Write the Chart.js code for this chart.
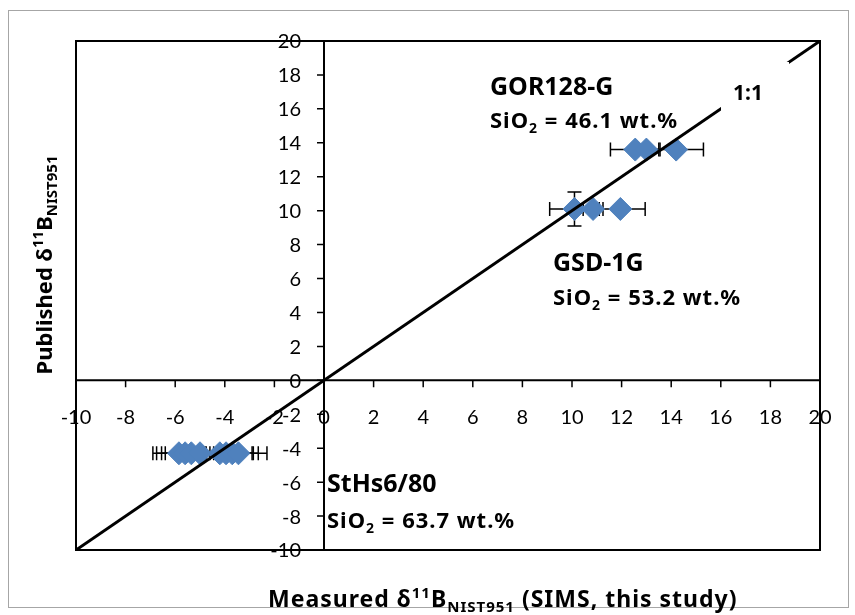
<!DOCTYPE html>
<html>
<head>
<meta charset="utf-8">
<script src="https://cdn.jsdelivr.net/npm/chart.js@4/dist/chart.umd.min.js"></script>
<style>
html,body{margin:0;padding:0;background:#fff;}
#wrap{width:855px;height:615px;}
</style>
</head>
<body>
<div id="wrap"><canvas id="c" width="855" height="615"></canvas></div>
<script>
// ---- data ----
const xTicks = [-10,-8,-6,-4,-2,0,2,4,6,8,10,12,14,16,18,20];
const yTicks = [-10,-8,-6,-4,-2,0,2,4,6,8,10,12,14,16,18,20];

const gorX = [12.55, 13.0, 14.2];
const gorY = [13.6, 13.6, 13.6];
const gorXErr = [1.0, 0.5, 1.1];
const gorYErr = [0, 0, 0];

const gsdX = [10.1, 10.85, 11.95];
const gsdY = [10.1, 10.1, 10.1];
const gsdXErr = [1.0, 0.4, 1.0];
const gsdYErr = [1.0, 0, 0];

const stX = [-5.85, -5.6, -5.35, -5.0, -4.2, -3.95, -3.7, -3.45];
const stY = [-4.3, -4.3, -4.3, -4.3, -4.3, -4.3, -4.3, -4.3];
const stXErr = [1.05, 1.15, 1.2, 1.4, 1.3, 1.1, 1.05, 1.15];
const stYErr = [0, 0, 0, 0, 0, 0, 0, 0];

const oneToOneX = [-10, 20];
const oneToOneY = [-10, 20];

function pts(xs, ys, xe, ye){
  return xs.map((v,i)=>({x:v, y:ys[i], xe: xe?xe[i]:0, ye: ye?ye[i]:0}));
}

const TICKFONT = 'Lato, "Liberation Sans", sans-serif';
const BFONT = '"Noto Sans", "DejaVu Sans", sans-serif';

function richText(ctx, parts, x, y, align, spacing){
  // parts: [text, size, dy]
  const sp = spacing || 0;
  ctx.letterSpacing = sp + 'px';
  let w = 0;
  parts.forEach(p=>{ ctx.font = 'bold ' + p[1] + 'px ' + BFONT; w += ctx.measureText(p[0]).width; });
  let cx = x;
  if (align === 'center') cx = x - w/2;
  ctx.textAlign = 'left';
  ctx.textBaseline = 'alphabetic';
  parts.forEach(p=>{
    ctx.font = 'bold ' + p[1] + 'px ' + BFONT;
    ctx.fillText(p[0], cx, y + p[2]);
    cx += ctx.measureText(p[0]).width;
  });
  ctx.letterSpacing = '0px';
}

const decor = {
  id: 'decor',
  beforeDatasetsDraw(chart){
    const {ctx, scales:{x, y}, chartArea:a} = chart;
    ctx.save();
    // outer border
    ctx.strokeStyle = '#a6a6a6';
    ctx.lineWidth = 1;
    ctx.strokeRect(8.5, 10.5, 840, 597);
    // frame
    ctx.strokeStyle = '#000';
    ctx.lineWidth = 2;
    ctx.strokeRect(a.left, a.top, a.right - a.left, a.bottom - a.top);
    // axes at zero
    const x0 = x.getPixelForValue(0), y0 = y.getPixelForValue(0);
    ctx.beginPath();
    ctx.moveTo(a.left, y0); ctx.lineTo(a.right, y0);
    ctx.moveTo(x0, a.top); ctx.lineTo(x0, a.bottom);
    ctx.stroke();
    // ticks
    ctx.lineWidth = 1.5;
    ctx.beginPath();
    xTicks.forEach(v=>{ const px = x.getPixelForValue(v); ctx.moveTo(px, y0); ctx.lineTo(px, y0 + 7); });
    yTicks.forEach(v=>{ const py = y.getPixelForValue(v); ctx.moveTo(x0, py); ctx.lineTo(x0 - 7, py); });
    ctx.stroke();
    // tick labels
    ctx.fillStyle = '#000';
    ctx.font = '20px ' + TICKFONT;
    ctx.textAlign = 'center';
    ctx.textBaseline = 'middle';
    xTicks.forEach(v=>{ ctx.fillText(String(v), x.getPixelForValue(v), y0 + 37); });
    ctx.textAlign = 'right';
    yTicks.forEach(v=>{ ctx.fillText(String(v), x0 - 23, y.getPixelForValue(v) + 1); });
    // error bars
    ctx.strokeStyle = '#000';
    ctx.lineWidth = 1.5;
    chart.data.datasets.forEach(ds=>{
      if (!ds.errorBars) return;
      ds.data.forEach(p=>{
        const px = x.getPixelForValue(p.x), py = y.getPixelForValue(p.y);
        ctx.beginPath();
        if (p.xe){
          const l = x.getPixelForValue(p.x - p.xe), r = x.getPixelForValue(p.x + p.xe);
          ctx.moveTo(l, py); ctx.lineTo(r, py);
          ctx.moveTo(l, py - 7); ctx.lineTo(l, py + 7);
          ctx.moveTo(r, py - 7); ctx.lineTo(r, py + 7);
        }
        if (p.ye){
          const t = y.getPixelForValue(p.y + p.ye), b = y.getPixelForValue(p.y - p.ye);
          ctx.moveTo(px, t); ctx.lineTo(px, b);
          ctx.moveTo(px - 7, t); ctx.lineTo(px + 7, t);
          ctx.moveTo(px - 7, b); ctx.lineTo(px + 7, b);
        }
        ctx.stroke();
      });
    });
    ctx.restore();
  },
  afterDatasetsDraw(chart){
    const {ctx} = chart;
    ctx.save();
    // white text box for 1:1 label
    ctx.fillStyle = '#fff';
    ctx.fillRect(721, 62, 68, 64);
    ctx.fillStyle = '#000';
    // annotations
    richText(ctx, [['1:1', 21, 0]], 733, 100);
    richText(ctx, [['GOR128-G', 25, 0]], 490, 95);
    richText(ctx, [['SiO', 22, 0], ['2', 14, 5], [' = 46.1 wt.%', 22, 0]], 490, 128, 'left', 1);
    richText(ctx, [['GSD-1G', 25, 0]], 553, 271);
    richText(ctx, [['SiO', 22, 0], ['2', 14, 5], [' = 53.2 wt.%', 22, 0]], 553, 305, 'left', 1);
    richText(ctx, [['StHs6/80', 25, 0]], 327, 492);
    richText(ctx, [['SiO', 22, 0], ['2', 14, 5], [' = 63.7 wt.%', 22, 0]], 327, 528, 'left', 1);
    // axis titles
    richText(ctx, [['Measured δ', 23, 0], ['11', 15, -9], ['B', 23, 0], ['NIST951', 15, 5], [' (SIMS, this study)', 23, 0]], 268, 607, 'left', 1);
    ctx.translate(52, 265);
    ctx.rotate(-Math.PI/2);
    richText(ctx, [['Published δ', 22, 0], ['11', 15, -9], ['B', 22, 0], ['NIST951', 15, 5]], 0, 0, 'center');
    ctx.restore();
  }
};

const diamond = {type:'scatter', pointStyle:'rectRot', pointRadius:11.5, pointHoverRadius:11.5,
  backgroundColor:'#4F81BD', borderColor:'#4F81BD', borderWidth:1, errorBars:true};

new Chart(document.getElementById('c'), {
  type: 'scatter',
  data: {
    datasets: [
      {type:'line', label:'1:1', data: oneToOneX.map((v,i)=>({x:v, y:oneToOneY[i]})),
       borderColor:'#000', borderWidth:3, pointRadius:0, fill:false, tension:0},
      Object.assign({label:'GOR128-G', data: pts(gorX, gorY, gorXErr, gorYErr)}, diamond),
      Object.assign({label:'GSD-1G', data: pts(gsdX, gsdY, gsdXErr, gsdYErr)}, diamond),
      Object.assign({label:'StHs6/80', data: pts(stX, stY, stXErr, stYErr)}, diamond)
    ]
  },
  options: {
    responsive: false,
    animation: false,
    devicePixelRatio: 1,
    layout: {padding: {left: 76, right: 35, top: 41, bottom: 65}},
    plugins: {legend: {display:false}, tooltip: {enabled:false}},
    scales: {
      x: {type:'linear', min:-10, max:20, display:false},
      y: {type:'linear', min:-10, max:20, display:false}
    }
  },
  plugins: [decor]
});
</script>
</body>
</html>
